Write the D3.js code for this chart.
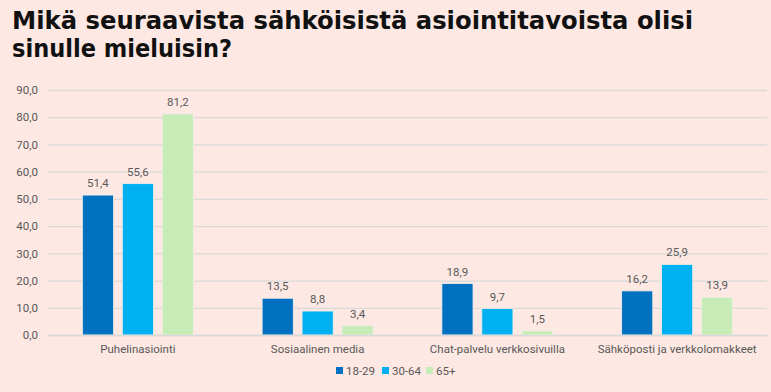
<!DOCTYPE html>
<html><head><meta charset="utf-8">
<script src="https://cdn.jsdelivr.net/npm/d3@7"></script>
<style>
html,body{margin:0;padding:0;background:#fde8e3;}
svg{display:block;}
</style></head>
<body>
<svg id="c" width="771" height="392"></svg>
<script>
const categories = ["Puhelinasiointi","Sosiaalinen media","Chat-palvelu verkkosivuilla","Sähköposti ja verkkolomakkeet"];
const seriesNames = ["18-29","30-64","65+"];
const s1829 = [51.4, 13.5, 18.9, 16.2];
const s3064 = [55.6, 8.8, 9.7, 25.9];
const s65 = [81.2, 3.4, 1.5, 13.9];
const yTicks = [0,10,20,30,40,50,60,70,80,90];
const colors = ["#0070c0","#00b0f0","#c8ecb8"];
const title = ["Mikä seuraavista sähköisistä asiointitavoista olisi","sinulle mieluisin?"];
const titleWidths = [681, 220];

const series = [s1829, s3064, s65];
const svg = d3.select("#c");
svg.append("rect").attr("width",771).attr("height",392).attr("fill","#fde8e3");

const fmt = v => v.toFixed(1).replace(".", ",");
const x0 = d3.scaleBand().domain(categories).range([48, 767]);
const x1 = d3.scaleBand().domain(seriesNames).range([0, 111]).paddingInner(0.22);
const y = d3.scaleLinear().domain([0, 90]).range([335, 90]);

// title
svg.append("g").selectAll("text").data(title).join("text")
  .attr("x", 12).attr("y", (d,i)=>29 + i*28)
  .attr("font-family","'DejaVu Sans', sans-serif")
  .attr("font-weight", 700).attr("font-size", 24)
  .attr("textLength",(d,i)=>titleWidths[i]).attr("lengthAdjust","spacingAndGlyphs")
  .attr("fill","#111").text(d=>d);

// grid
const yAxis = d3.axisLeft(y).tickValues(yTicks).tickSize(-(767-48)).tickFormat(fmt);
const ga = svg.append("g").attr("transform","translate(48,0)").call(yAxis);
ga.select(".domain").remove();
ga.selectAll(".tick line").attr("stroke","#d9d9d9").attr("stroke-width",1.3);
ga.selectAll(".tick text").attr("x",-10).attr("fill","#595959")
  .attr("font-family","Roboto, sans-serif").attr("font-size",11.5);

// bars
const groups = svg.append("g").selectAll("g").data(categories).join("g")
  .attr("transform", c => `translate(${x0(c) + (x0.bandwidth()-111)/2},0)`);
groups.selectAll("rect").data((c,ci)=>seriesNames.map((s,si)=>({s, si, v: series[si][ci]})))
  .join("rect")
  .attr("x", d=>x1(d.s)).attr("width", x1.bandwidth())
  .attr("y", d=>y(d.v)).attr("height", d=>y(0)-y(d.v))
  .attr("fill", d=>colors[d.si]).attr("stroke","#f4ede8").attr("stroke-width",0.8);
groups.selectAll("text").data((c,ci)=>seriesNames.map((s,si)=>({s, si, v: series[si][ci]})))
  .join("text")
  .attr("x", d=>x1(d.s)+x1.bandwidth()/2).attr("y", d=>y(d.v)-8)
  .attr("text-anchor","middle").attr("fill","#595959")
  .attr("font-family","Roboto, sans-serif").attr("font-size",11.5)
  .text(d=>fmt(d.v));

// x axis
const xAxis = d3.axisBottom(x0).tickSize(0).tickPadding(10);
const gx = svg.append("g").attr("transform","translate(0,335)").call(xAxis);
gx.select(".domain").attr("stroke","#d9d9d9").attr("stroke-width",1.3);
gx.selectAll(".tick text").attr("fill","#595959")
  .attr("font-family","Roboto, sans-serif").attr("font-size",11.5);

// legend
const legX = [336, 382, 426];
const lg = svg.append("g").selectAll("g").data(seriesNames).join("g")
  .attr("transform",(d,i)=>`translate(${legX[i]},367)`);
lg.append("rect").attr("width",7).attr("height",7).attr("fill",(d,i)=>colors[i]);
lg.append("text").attr("x",10).attr("y",8).attr("fill","#595959")
  .attr("font-family","Roboto, sans-serif").attr("font-size",11.5).text(d=>d);
</script>
</body></html>
